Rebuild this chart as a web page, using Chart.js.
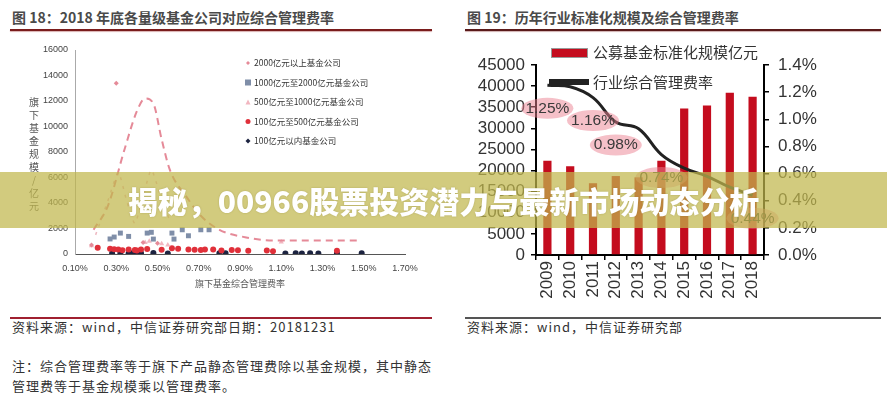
<!DOCTYPE html>
<html>
<head>
<meta charset="utf-8">
<script src="https://cdn.jsdelivr.net/npm/chart.js@4"></script>
<style>
  body { margin: 0; background: #fff; font-family: "Noto Sans CJK SC", sans-serif; }
  #page { position: relative; width: 887px; height: 400px; overflow: hidden; background: #fff; }
  .title { position: absolute; top: 7px; font-size: 14px; font-weight: bold; color: #4a4a4a; white-space: nowrap; }
  .rule { position: absolute; height: 2px; }
  .src { position: absolute; font-size: 13px; color: #333; letter-spacing: 1px; white-space: nowrap; }
  canvas { position: absolute; }
  #banner { position: absolute; left: 0; top: 172px; width: 887px; height: 56px; background: rgba(193,183,76,0.72);
            color: #fff; font-size: 30px; font-weight: 900; text-align: center; line-height: 56px; z-index: 5;
            text-shadow: 0 0 2px rgba(120,110,40,0.4); }
</style>
</head>
<body>
<div id="page">
  <div class="title" style="left:12px">图 18：2018 年底各量级基金公司对应综合管理费率</div>
  <div class="rule" style="left:10px;top:29px;width:422px;background:#7a1c1c;box-shadow:0 1px 1px #d9b0b0"></div>
  <div class="title" style="left:467px">图 19：历年行业标准化规模及综合管理费率</div>
  <div class="rule" style="left:465px;top:29px;width:416px;background:#5a1a1a;box-shadow:0 1px 1px #d0b0b0"></div>

  <canvas id="left" width="440" height="264" style="left:0;top:36px"></canvas>
  <canvas id="right" width="427" height="264" style="left:460px;top:36px"></canvas>

  <div class="rule" style="left:10px;top:317px;width:422px;background:#a02030"></div>
  <div class="rule" style="left:465px;top:317px;width:416px;background:#555"></div>
  <div class="src" style="left:12px;top:317px">资料来源：wind，中信证券研究部日期：20181231</div>
  <div class="src" style="left:467px;top:317px">资料来源：wind，中信证券研究部</div>
  <div class="src" style="left:12px;top:356px">注：综合管理费率等于旗下产品静态管理费除以基金规模，其中静态</div>
  <div class="src" style="left:12px;top:376px">管理费等于基金规模乘以管理费率。</div>

  <div id="banner">揭秘，00966股票投资潜力与最新市场动态分析</div>
</div>

<script>
// ---- 图18 data (x = 综合管理费率 %, y = 规模 亿元)
const rateTicks = [0.1, 0.3, 0.5, 0.7, 0.9, 1.1, 1.3, 1.5, 1.7]
const sizeLabels = ['2000亿元以上基金公司', '1000亿元至2000亿元基金公司', '500亿元至1000亿元基金公司', '100亿元至500亿元基金公司', '100亿元以内基金公司']

const over2000X = [0.18, 0.30, 0.43, 0.50]
const over2000Y = [700, 13400, 900, 850]
const from1000X = [0.27, 0.29, 0.32, 0.36, 0.45, 0.47, 0.48, 0.57, 0.58, 0.62, 0.65, 0.71, 0.75]
const from1000Y = [1180, 1330, 1640, 1380, 1640, 1700, 1170, 1640, 1170, 1900, 1430, 1900, 1900]
const from500X = [0.18, 0.44, 0.46, 0.52, 0.55, 1.10]
const from500Y = [650, 900, 1000, 800, 700, 950]
const from100X = [0.21, 0.27, 0.29, 0.31, 0.33, 0.36, 0.39, 0.40, 0.42, 0.45, 0.52, 0.57, 0.60, 0.65, 0.68, 0.71, 0.73, 0.77, 0.81, 0.86, 0.89, 0.94, 1.03, 1.06, 1.37]
const from100Y = [500, 420, 380, 350, 300, 360, 320, 280, 350, 400, 330, 450, 420, 350, 330, 310, 360, 350, 280, 320, 300, 250, 280, 220, 250]
const under100X = [0.28, 0.32, 0.36, 0.38, 0.40, 0.42, 0.48, 0.55, 0.80, 0.83, 1.12, 1.17, 1.20, 1.24, 1.28, 1.37, 1.49]
const under100Y = [60, 50, 40, 80, 60, 50, 70, 40, 60, 50, 40, 50, 40, 50, 40, 60, 50]

// trend lines
const trendX = [0.19, 0.26, 0.34, 0.40, 0.44, 0.48, 0.52, 0.56, 0.64, 0.71, 0.80, 0.93, 1.06, 1.22, 1.47]
const trendY = [1900, 3800, 8200, 11200, 12200, 11800, 9000, 6600, 4500, 3000, 1900, 1300, 1050, 1050, 1050]
const trend2X = [0.20, 0.26, 0.31, 0.35, 0.39, 0.43, 0.47, 0.51, 0.56]
const trend2Y = [1500, 4200, 6400, 4200, 2400, 4500, 6600, 4800, 2600]

// ---- 图19 data
const years = ['2009', '2010', '2011', '2012', '2013', '2014', '2015', '2016', '2017', '2018']
const fundScale = [22300, 21000, 17000, 18700, 18400, 22300, 34700, 35400, 38400, 37500]
const feeRate = [1.25, 1.24, 1.16, 0.98, 0.93, 0.74, 0.64, 0.58, 0.50, 0.44]
const feeTagged = [0, 2, 3, 5, 9]

const pts = (xs, ys) => xs.map((x, i) => ({ x: x, y: ys[i] }))
const leftColors = ['#e58a98', '#7f8ea8', '#f2b6c0', '#e0303a', '#1c2340']
const leftShapes = ['rectRot', 'rect', 'triangle', 'circle', 'rectRot']

const leftExtras = {
  id: 'leftExtras',
  afterDraw (chart) {
    const ctx = chart.ctx
    ctx.save()
    ctx.font = '8.5px "Noto Sans CJK SC", sans-serif'
    ctx.textBaseline = 'middle'
    sizeLabels.forEach((t, i) => {
      const y = 27 + i * 19.5
      ctx.fillStyle = leftColors[i]
      const r = [2, 3, 2.5, 2.5, 2.5][i]
      ctx.beginPath()
      if (leftShapes[i] === 'rect') ctx.rect(248 - r, y - r, r * 2, r * 2)
      else if (leftShapes[i] === 'triangle') { ctx.moveTo(248, y - r); ctx.lineTo(248 + r, y + r); ctx.lineTo(248 - r, y + r) } else if (leftShapes[i] === 'circle') ctx.arc(248, y, r, 0, Math.PI * 2)
      else { ctx.moveTo(248, y - r); ctx.lineTo(248 + r, y); ctx.lineTo(248, y + r); ctx.lineTo(248 - r, y) }
      ctx.fill()
      ctx.fillStyle = '#333'
      ctx.fillText(t, 254, y)
    })
    // axis titles
    ctx.fillStyle = '#555'
    ctx.font = '9px "Noto Sans CJK SC", sans-serif'
    ctx.textAlign = 'center'
    ctx.fillText('旗下基金综合管理费率', 240, 248)
    ctx.font = '10px "Noto Sans CJK SC", sans-serif'
    '旗下基金规模/亿元'.split('').forEach((c, i) => ctx.fillText(c, 34, 66 + i * 13))
    ctx.restore()
  }
}

new Chart(document.getElementById('left'), {
  type: 'scatter',
  data: {
    datasets: [
      { type: 'line', data: pts(trendX, trendY), borderColor: '#e58a98', borderWidth: 2, borderDash: [7, 5], pointRadius: 0, cubicInterpolationMode: 'monotone', fill: false },
      { type: 'line', data: pts(trend2X, trend2Y), borderColor: '#eeb8c1', borderWidth: 1.5, borderDash: [3, 6], pointRadius: 0, tension: 0.2, fill: false },
      { data: pts(over2000X, over2000Y), backgroundColor: leftColors[0], pointStyle: 'rectRot', pointRadius: 2.5, borderWidth: 0 },
      { data: pts(from1000X, from1000Y), backgroundColor: leftColors[1], pointStyle: 'rect', pointRadius: 3.5, borderWidth: 0 },
      { data: pts(from500X, from500Y), backgroundColor: leftColors[2], pointStyle: 'triangle', pointRadius: 3, borderWidth: 0 },
      { data: pts(from100X, from100Y), backgroundColor: leftColors[3], pointStyle: 'circle', pointRadius: 3, borderWidth: 0 },
      { data: pts(under100X, under100Y), backgroundColor: leftColors[4], pointStyle: 'circle', pointRadius: 3, borderWidth: 0 }
    ]
  },
  options: {
    responsive: false,
    animation: false,
    devicePixelRatio: 1,
    layout: { padding: { top: 14, right: 35, left: 0, bottom: 0 } },
    plugins: { legend: { display: false }, tooltip: { enabled: false } },
    scales: {
      x: {
        type: 'linear',
        min: 0.1,
        max: 1.7,
        afterBuildTicks: s => { s.ticks = rateTicks.map(v => ({ value: v })) },
        afterFit: s => { s.height = 46 },
        grid: { drawOnChartArea: false, drawTicks: false },
        border: { color: '#555', width: 1 },
        ticks: { autoSkip: false, padding: 9, color: '#444', font: { family: 'Liberation Sans', size: 9 }, callback: v => v.toFixed(2) + '%', maxRotation: 0 }
      },
      y: {
        min: 0,
        max: 16000,
        afterFit: s => { s.width = 75 },
        grid: { drawOnChartArea: false, drawTicks: false },
        border: { color: '#aaa', width: 1 },
        ticks: { autoSkip: false, stepSize: 2000, padding: 7, color: '#444', font: { family: 'Liberation Sans', size: 9 }, callback: v => String(v) }
      }
    }
  },
  plugins: [leftExtras]
})

const rightExtras = {
  id: 'rightExtras',
  afterDatasetsDraw (chart) {
    const ctx = chart.ctx
    const xs = chart.scales.x
    const ys = chart.scales.y1
    ctx.save()
    ctx.font = '15.5px "Liberation Sans", sans-serif'
    ctx.textAlign = 'center'
    ctx.textBaseline = 'middle'
    feeTagged.forEach(i => {
      const x = xs.getPixelForValue(i)
      const y = ys.getPixelForValue(feeRate[i]) + 23
      ctx.fillStyle = 'rgba(236,130,145,0.5)'
      ctx.beginPath()
      ctx.ellipse(x, y, 26, 10.5, 0, 0, Math.PI * 2)
      ctx.fill()
      ctx.fillStyle = '#3a3a3a'
      ctx.fillText(feeRate[i].toFixed(2) + '%', x, y)
    })
    ctx.restore()
  },
  afterDraw (chart) {
    const ctx = chart.ctx
    ctx.save()
    ctx.fillStyle = '#c40c1e'
    ctx.fillRect(91, 12, 36, 9)
    ctx.strokeStyle = '#999'
    ctx.lineWidth = 1
    ctx.strokeRect(91.5, 12.5, 36, 9)
    ctx.fillStyle = '#222'
    ctx.fillRect(89, 43, 40, 6)
    ctx.font = '15px "Noto Sans CJK SC", sans-serif'
    ctx.fillStyle = '#333'
    ctx.textBaseline = 'middle'
    ctx.fillText('公募基金标准化规模亿元', 133, 16)
    ctx.fillText('行业综合管理费率', 133, 46)
    ctx.restore()
  }
}

const tickFont = { family: 'Liberation Sans', size: 17 }

new Chart(document.getElementById('right'), {
  type: 'bar',
  data: {
    labels: years,
    datasets: [
      { type: 'line', label: '行业综合管理费率', data: feeRate, yAxisID: 'y1', borderColor: '#222', borderWidth: 3, pointRadius: 0, tension: 0.4, order: 0 },
      { label: '公募基金标准化规模亿元', data: fundScale, yAxisID: 'y', backgroundColor: '#c40c1e', barPercentage: 0.36, categoryPercentage: 1, order: 1 }
    ]
  },
  options: {
    responsive: false,
    animation: false,
    devicePixelRatio: 1,
    layout: { padding: { top: 29, left: 0, right: 0, bottom: 0 } },
    plugins: { legend: { display: false }, tooltip: { enabled: false } },
    scales: {
      x: {
        afterFit: s => { s.height = 45 },
        grid: { drawOnChartArea: false, tickLength: 5, color: '#000', lineWidth: 1.5 },
        border: { color: '#000', width: 2 },
        ticks: { autoSkip: false, font: tickFont, color: '#333', minRotation: 90, maxRotation: 90, padding: 1 }
      },
      y: {
        position: 'left',
        min: 0,
        max: 45000,
        afterFit: s => { s.width = 76 },
        grid: { drawOnChartArea: false, tickLength: 5, color: '#000', lineWidth: 1.5 },
        border: { color: '#000', width: 2 },
        ticks: { autoSkip: false, stepSize: 5000, font: tickFont, color: '#333', padding: 6, callback: v => String(v) }
      },
      y1: {
        position: 'right',
        min: 0,
        max: 1.4,
        afterFit: s => { s.width = 123 },
        grid: { drawOnChartArea: false, tickLength: 5, color: '#000', lineWidth: 1.5 },
        border: { color: '#000', width: 2 },
        ticks: { autoSkip: false, stepSize: 0.2, font: tickFont, color: '#333', padding: 9, callback: v => v.toFixed(1) + '%' }
      }
    }
  },
  plugins: [rightExtras]
})
</script>
</body>
</html>
